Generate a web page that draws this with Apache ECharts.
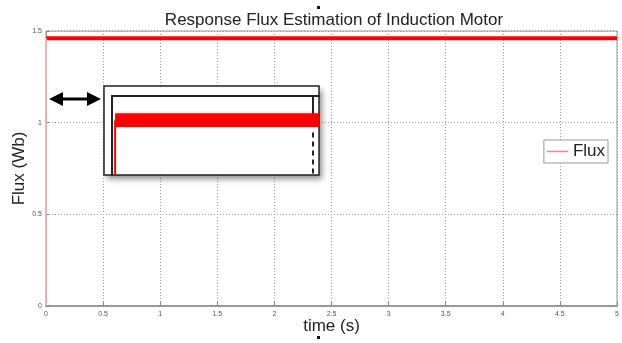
<!DOCTYPE html>
<html>
<head>
<meta charset="utf-8">
<script src="https://cdn.jsdelivr.net/npm/echarts@6/dist/echarts.min.js"></script>
<style>
  html, body { margin: 0; padding: 0; background: #fff; }
  #chart { width: 622px; height: 343px; }
</style>
</head>
<body>
<div id="chart"></div>
<script>
// 主图数据: 磁链响应 (起始上升段 + 稳态段)
var riseTime = [0, 0.001];
var riseValue = [0, 1.46];
var fluxTime = [0.001, 5];
var fluxValue = [1.46, 1.46];
var xTicks = ['0', '0.5', '1', '1.5', '2', '2.5', '3', '3.5', '4', '4.5', '5'];
var yTicks = ['0', '0.5', '1', '1.5'];
// 局部放大图数据
var zoomRiseTime = [0.0015, 0.0015];
var zoomRiseValue = [1.37, 1.46];
var zoomBandTime = [0.0015, 0.1];
var zoomBandValue = [1.46, 1.46];
var zoomMarkTime = 0.097;

var fontFamily = '"Liberation Sans", Arial, sans-serif';

function pairs(xs, ys) {
    var out = [];
    xs.forEach(function (x, i) { out.push([x, ys[i]]); });
    return out;
}

var chart = echarts.init(document.getElementById('chart'), null, { renderer: 'canvas' });

var option = {
    backgroundColor: '#fff',
    animation: false,
    title: {
        text: 'Response Flux Estimation of Induction Motor',
        left: 329,
        textAlign: 'center',
        top: 7,
        textStyle: { fontFamily: fontFamily, fontSize: 17, fontWeight: 'normal', color: '#222' }
    },
    legend: {
        right: 14,
        top: 140,
        data: [{ name: 'Flux', icon: 'path://M0,0H21V1.5H0Z', itemStyle: { color: '#ff8080' } }],
        itemWidth: 21,
        itemHeight: 10,
        itemGap: 2,
        padding: [3, 3, 3, 3],
        borderColor: '#999',
        borderWidth: 1,
        backgroundColor: '#fff',
        textStyle: { fontFamily: fontFamily, fontSize: 17, color: '#222' }
    },
    grid: [
        { left: 46, right: 5, top: 31, bottom: 37, show: true, borderColor: '#999', borderWidth: 1, outerBoundsMode: 'none', containLabel: false },
        { left: 112, top: 96, width: 207, height: 79, outerBoundsMode: 'none', containLabel: false }
    ],
    xAxis: [{
        type: 'value',
        gridIndex: 0,
        min: 0, max: 5, interval: 0.5,
        name: 'time (s)',
        nameLocation: 'middle',
        nameGap: 12,
        nameMoveOverlap: false,
        nameTextStyle: { fontFamily: fontFamily, fontSize: 17, color: '#222' },
        axisLine: { show: true, lineStyle: { color: '#999', width: 2 } },
        axisTick: { show: true, inside: true, length: 4, lineStyle: { color: '#888' } },
        axisLabel: {
            fontFamily: fontFamily, fontSize: 7, color: '#555', margin: 5,
            formatter: function (v) { return xTicks[Math.round(v * 2)]; }
        },
        splitLine: { show: true, lineStyle: { color: '#999', type: [1, 2], width: 1 } }
    }, {
        type: 'value',
        gridIndex: 1,
        position: 'top',
        min: 0, max: 0.1,
        z: 6,
        axisLine: { show: true, onZero: false, lineStyle: { color: '#222', width: 2 } },
        axisTick: { show: false },
        axisLabel: { show: false },
        splitLine: { show: false }
    }],
    yAxis: [{
        type: 'value',
        gridIndex: 0,
        min: 0, max: 1.5, interval: 0.5,
        name: 'Flux (Wb)',
        nameLocation: 'middle',
        nameGap: 18,
        nameMoveOverlap: false,
        nameTextStyle: { fontFamily: fontFamily, fontSize: 17, color: '#222' },
        axisLine: { show: true, lineStyle: { color: '#999', width: 1 } },
        axisTick: { show: true, inside: true, length: 4, lineStyle: { color: '#888' } },
        axisLabel: {
            fontFamily: fontFamily, fontSize: 7, color: '#555', margin: 4,
            formatter: function (v) { return yTicks[Math.round(v * 2)]; }
        },
        splitLine: { show: true, lineStyle: { color: '#999', type: [1, 2], width: 1 } }
    }, {
        type: 'value',
        gridIndex: 1,
        min: 1.37, max: 1.5,
        z: 6,
        axisLine: { show: true, onZero: false, lineStyle: { color: '#222', width: 2 } },
        axisTick: { show: false },
        axisLabel: { show: false },
        splitLine: { show: false }
    }],
    graphic: [
        // 放大框阴影
        {
            type: 'rect', z: 3,
            shape: { x: 104, y: 86, width: 215, height: 89 },
            style: {
                fill: '#fff',
                shadowBlur: 6, shadowOffsetX: 3, shadowOffsetY: 4, shadowColor: 'rgba(0,0,0,0.45)'
            }
        },
        // 放大框
        {
            type: 'rect', z: 4,
            shape: { x: 104, y: 86, width: 215, height: 89 },
            style: { fill: '#ffffff', stroke: '#222', lineWidth: 1.5 }
        },
        // 双向箭头
        { type: 'rect', z: 4, shape: { x: 60, y: 97.5, width: 30, height: 3 }, style: { fill: '#000' } },
        { type: 'polygon', z: 4, shape: { points: [[49, 99], [63, 92], [63, 106]] }, style: { fill: '#000' } },
        { type: 'polygon', z: 4, shape: { points: [[101, 99], [87, 92], [87, 106]] }, style: { fill: '#000' } },
        // 图片上的小黑点
        { type: 'rect', z: 4, shape: { x: 317, y: 6, width: 3, height: 3 }, style: { fill: '#111' } },
        { type: 'rect', z: 4, shape: { x: 317, y: 336, width: 3, height: 3 }, style: { fill: '#111' } }
    ],
    series: [{
        name: 'Flux',
        type: 'line',
        xAxisIndex: 0,
        yAxisIndex: 0,
        data: pairs(fluxTime, fluxValue),
        symbol: 'none',
        z: 2,
        lineStyle: { color: '#ff0000', width: 4 },
        itemStyle: { color: '#ff8080' }
    }, {
        name: 'fluxRise',
        type: 'line',
        xAxisIndex: 0,
        yAxisIndex: 0,
        data: pairs(riseTime, riseValue),
        symbol: 'none',
        z: 2,
        lineStyle: { color: '#ffb0b0', width: 1.5 }
    }, {
        name: 'zoomRise',
        type: 'line',
        xAxisIndex: 1,
        yAxisIndex: 1,
        data: pairs(zoomRiseTime, zoomRiseValue),
        symbol: 'none',
        z: 5,
        lineStyle: { color: '#ff0000', width: 2 },
        markLine: {
            silent: true,
            symbol: 'none',
            label: { show: false },
            data: [
                [{ coord: [zoomMarkTime, 1.5], lineStyle: { color: '#222', width: 2, type: 'solid' } }, { coord: [zoomMarkTime, 1.46] }],
                [{ coord: [zoomMarkTime, 1.44], lineStyle: { color: '#222', width: 2, type: [5, 4] } }, { coord: [zoomMarkTime, 1.37] }]
            ]
        }
    }, {
        name: 'zoomBand',
        type: 'line',
        xAxisIndex: 1,
        yAxisIndex: 1,
        data: pairs(zoomBandTime, zoomBandValue),
        symbol: 'none',
        z: 5,
        lineStyle: { color: '#ff0000', width: 14 }
    }]
};

chart.setOption(option);
</script>
</body>
</html>
